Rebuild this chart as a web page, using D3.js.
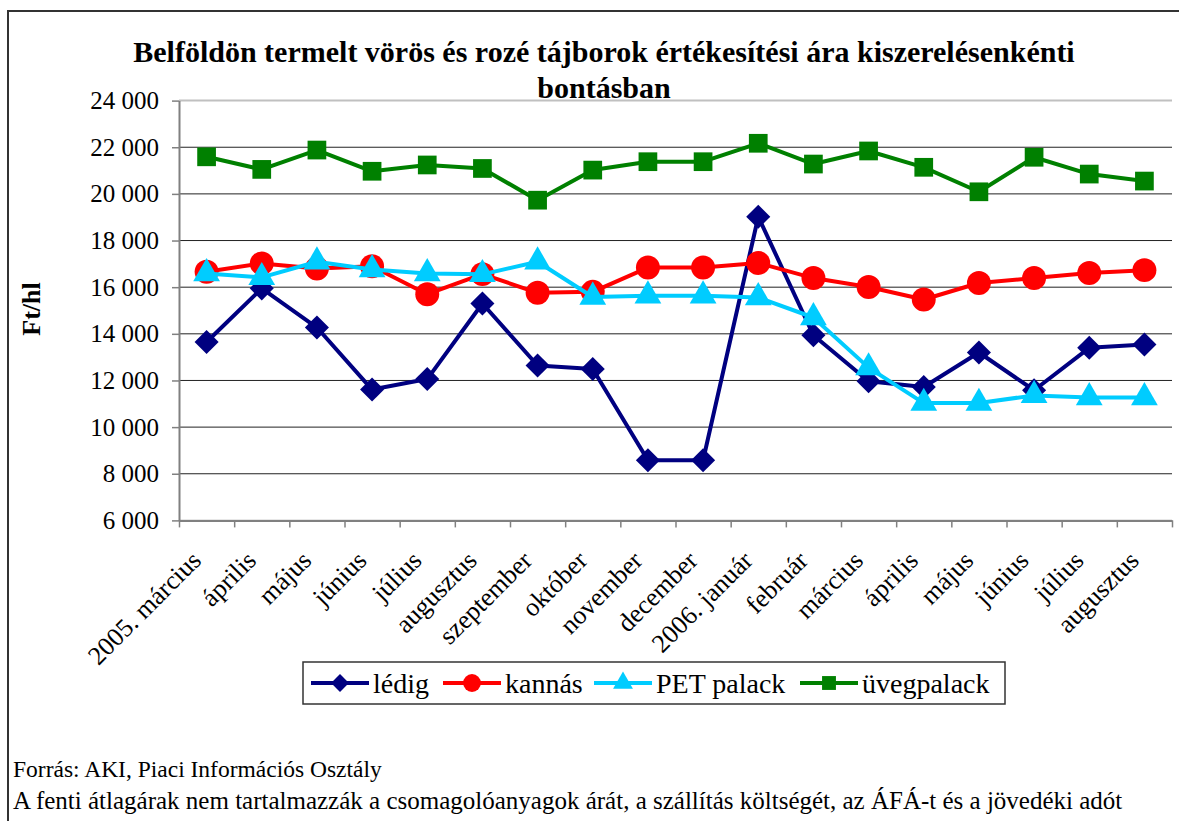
<!DOCTYPE html>
<html>
<head>
<meta charset="utf-8">
<script src="https://cdn.jsdelivr.net/npm/d3@7"></script>
<style>
  body { margin: 0; background: #fff; }
  svg text { font-family: "Liberation Serif", "Times New Roman", serif; fill: #000; }
</style>
</head>
<body>
<svg id="chart"></svg>
<script>
// categories (months)
const months = [
  '2005. március', 'április', 'május', 'június', 'július', 'augusztus',
  'szeptember', 'október', 'november', 'december', '2006. január', 'február',
  'március', 'április ', 'május ', 'június ', 'július ', 'augusztus '
];

// series values, Ft/hl
const ledig = [13650, 15950, 14270, 11610, 12060, 15300, 12640, 12490, 8580, 8580, 19020, 13940, 11970, 11720, 13200, 11580, 13400, 13540];
const kannas = [16660, 17020, 16800, 16900, 15700, 16560, 15760, 15800, 16840, 16840, 17040, 16390, 16010, 15470, 16180, 16390, 16610, 16730];
const petPalack = [16590, 16420, 17090, 16760, 16590, 16550, 17090, 15580, 15630, 15630, 15560, 14700, 12550, 11030, 11030, 11360, 11270, 11270];
const uvegpalack = [21590, 21050, 21880, 20970, 21240, 21090, 19730, 21020, 21380, 21380, 22170, 21280, 21840, 21140, 20090, 21570, 20850, 20550];

const yTicks = [6000, 8000, 10000, 12000, 14000, 16000, 18000, 20000, 22000, 24000];

// square diamond (Excel style), not the tall d3 one
const squareDiamond = {
  draw(context, size) {
    const r = Math.sqrt(size / 2);
    context.moveTo(0, -r);
    context.lineTo(r, 0);
    context.lineTo(0, r);
    context.lineTo(-r, 0);
    context.closePath();
  }
};

const seriesList = [
  { name: 'lédig', values: ledig, color: '#000080', symbol: squareDiamond, size: 290 },
  { name: 'kannás', values: kannas, color: '#ff0000', symbol: d3.symbolCircle, size: 450 },
  { name: 'PET palack', values: petPalack, color: '#00ccff', symbol: d3.symbolTriangle, size: 310 },
  { name: 'üvegpalack', values: uvegpalack, color: '#008000', symbol: d3.symbolSquare, size: 350 }
];

const width = 1179, height = 821;
const margin = { top: 100.6, right: 7, bottom: 301, left: 179 };

const svg = d3.select('#chart').attr('width', width).attr('height', height);

// chart area frame
svg.append('rect')
  .attr('x', 8).attr('y', 11)
  .attr('width', 1190).attr('height', 830)
  .attr('fill', 'none').attr('stroke', '#333').attr('stroke-width', 2);

const x = d3.scaleBand().domain(months).range([margin.left, width - margin.right]);
const xEdge = d3.scaleLinear().domain([0, months.length]).range([margin.left, width - margin.right]);
const y = d3.scaleLinear().domain([6000, 24000]).range([height - margin.bottom + 0.4, margin.top]);

const locale = d3.formatLocale({ decimal: ',', thousands: ' ', grouping: [3] });
const fmt = locale.format(',');

// gridlines
svg.append('g')
  .selectAll('line')
  .data(yTicks)
  .join('line')
  .attr('x1', margin.left).attr('x2', width - margin.right)
  .attr('y1', d => y(d)).attr('y2', d => y(d))
  .attr('stroke', d => d === 24000 ? '#c0c0c0' : '#222')
  .attr('stroke-width', d => d === 24000 ? 2 : 1);

// y axis
const yAxisG = svg.append('g')
  .attr('transform', `translate(${margin.left},0)`)
  .call(d3.axisLeft(y).tickValues(yTicks).tickSize(7).tickSizeOuter(0).tickFormat(fmt));
yAxisG.select('.domain').attr('stroke', '#808080').attr('stroke-width', 2);
yAxisG.selectAll('.tick line').attr('stroke', '#808080').attr('stroke-width', 1.5);
yAxisG.selectAll('.tick text')
  .attr('x', -20)
  .style('font-size', '25px');

// x axis (ticks between categories)
const xAxisG = svg.append('g')
  .attr('transform', `translate(0,${y(6000)})`)
  .call(d3.axisBottom(xEdge).tickValues(d3.range(months.length + 1)).tickSize(7).tickSizeOuter(0).tickFormat(''));
xAxisG.select('.domain').attr('stroke', '#808080').attr('stroke-width', 2);
xAxisG.selectAll('.tick line').attr('stroke', '#808080').attr('stroke-width', 1.5);

// x labels rotated
svg.append('g')
  .selectAll('text')
  .data(months)
  .join('text')
  .attr('transform', d => `translate(${x(d) + x.bandwidth() / 2 - 4},562) rotate(-45)`)
  .attr('text-anchor', 'end')
  .style('font-size', '26px')
  .text(d => d.trim());

// series
const line = d3.line()
  .x((d, i) => x(months[i]) + x.bandwidth() / 2)
  .y(d => y(d));

seriesList.forEach(s => {
  const g = svg.append('g');
  g.append('path')
    .datum(s.values)
    .attr('d', line)
    .attr('fill', 'none')
    .attr('stroke', s.color)
    .attr('stroke-width', 4)
    .attr('stroke-linejoin', 'round');
  g.selectAll('path.mark')
    .data(s.values)
    .join('path')
    .attr('class', 'mark')
    .attr('d', d3.symbol().type(s.symbol).size(s.size))
    .attr('transform', (d, i) => `translate(${x(months[i]) + x.bandwidth() / 2},${y(d)})`)
    .attr('fill', s.color);
});

// title
const title = svg.append('text')
  .attr('text-anchor', 'middle')
  .style('font-size', '30px')
  .style('font-weight', 'bold');
title.append('tspan').attr('x', 604).attr('y', 62)
  .text('Belföldön termelt vörös és rozé tájborok értékesítési ára kiszerelésenkénti');
title.append('tspan').attr('x', 604).attr('y', 98).text('bontásban');

// y axis title
svg.append('text')
  .attr('transform', 'translate(40,309) rotate(-90)')
  .attr('text-anchor', 'middle')
  .style('font-size', '26px')
  .style('font-weight', 'bold')
  .text('Ft/hl');

// legend
const legend = svg.append('g').attr('transform', 'translate(303,662)');
legend.append('rect')
  .attr('width', 702).attr('height', 42)
  .attr('fill', '#fff').attr('stroke', '#333').attr('stroke-width', 1.5);

const legendX = [8, 140, 291, 497];
const item = legend.selectAll('g.item')
  .data(seriesList)
  .join('g')
  .attr('class', 'item')
  .attr('transform', (d, i) => `translate(${legendX[i]},21)`);
item.append('line')
  .attr('x1', 0).attr('x2', 58)
  .attr('stroke', d => d.color).attr('stroke-width', 4);
item.append('path')
  .attr('d', d => d3.symbol().type(d.symbol).size(d.size * 0.55)())
  .attr('transform', 'translate(29,0)')
  .attr('fill', d => d.color);
item.append('text')
  .attr('x', 62).attr('y', 10)
  .style('font-size', '28px')
  .text(d => d.name);

// source notes
svg.append('text')
  .attr('x', 13).attr('y', 777)
  .style('font-size', '23.5px')
  .text('Forrás: AKI, Piaci Információs Osztály');
svg.append('text')
  .attr('x', 13).attr('y', 809)
  .style('font-size', '25px')
  .text('A fenti átlagárak nem tartalmazzák a csomagolóanyagok árát, a szállítás költségét, az ÁFÁ-t és a jövedéki adót');
</script>
</body>
</html>
